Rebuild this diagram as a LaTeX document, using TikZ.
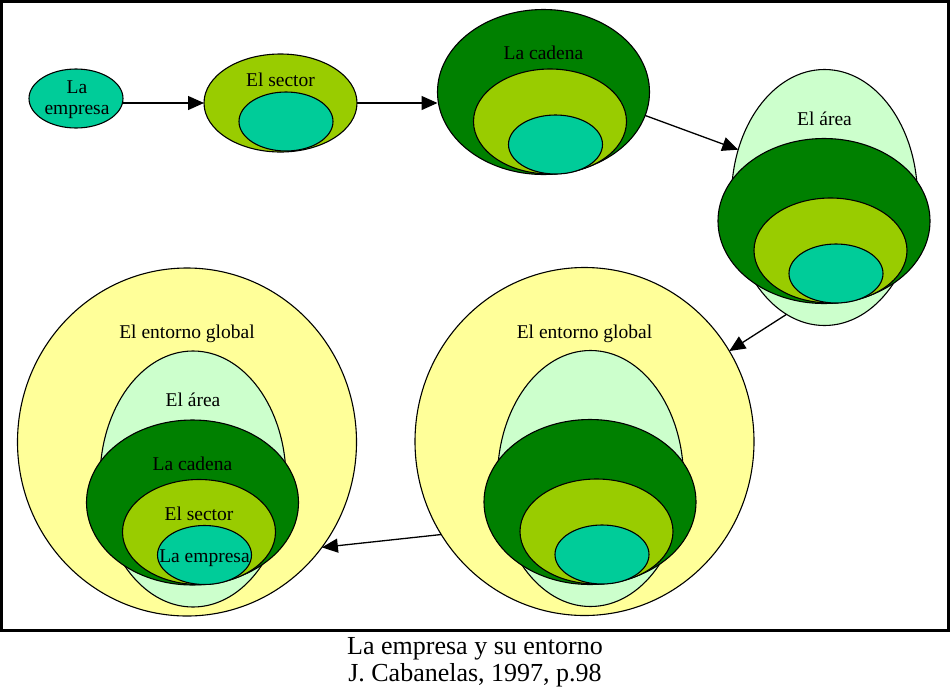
\documentclass[tikz,border=0pt]{standalone}
\usepackage{fontspec}
\setmainfont{Liberation Serif}
\usetikzlibrary{positioning, shapes.geometric, arrows.meta}
\definecolor{turquesa}{HTML}{00CC99}
\definecolor{pistacho}{HTML}{99CC00}
\definecolor{verdeosc}{HTML}{008000}
\definecolor{verdeclaro}{HTML}{CCFFCC}
\definecolor{amarillo}{HTML}{FFFF99}

\begin{document}
\begin{tikzpicture}[x=1pt, y=-1pt,
	elip/.style={draw, ellipse, line width=1.1pt, inner sep=0, outer sep=0},
	txt/.style={font=\fontsize{19.5}{21}\selectfont, inner sep=0, align=center},
	flecha/.style={line width=1.3pt, -{Triangle[length=16pt, width=14pt]}}]
\useasboundingbox (0,0) rectangle (951,694);
\draw[line width=3pt] (1.5,1.5) rectangle (948,630);
\node[elip, fill=turquesa, minimum width=94pt, minimum height=59pt] (empresa) at (76,98.5) {};
\node[elip, fill=pistacho, minimum width=153pt, minimum height=98pt] (sector) at (280.5,103) {};
\node[elip, fill=turquesa, minimum width=94pt, minimum height=59pt] (sectoremp) at (286,121.5) {};
\foreach \p/\tx/\ty/\n in {paso3/555.5/144.5/3, paso4/836/273.5/4, paso5/602/554.5/5, paso6/204.5/555/5} {
	\begin{scope}[shift={(\tx,\ty)}]
		\ifnum\n>4 \node[elip, fill=amarillo, minimum width=339pt, minimum height=348pt] (\p glob) at (-17.5,-113) {}; \fi
		\ifnum\n>3 \node[elip, fill=verdeclaro, minimum width=186pt, minimum height=256pt] (\p area) at (-11.5,-76) {}; \fi
		\node[elip, fill=verdeosc, minimum width=212pt, minimum height=165pt] (\p cad) at (-12,-52.5) {};
		\node[elip, fill=pistacho, minimum width=153pt, minimum height=105pt] (\p sec) at (-5.5,-23) {};
		\node[elip, fill=turquesa, minimum width=94pt, minimum height=59pt] (\p emp) at (0,0) {};
	\end{scope}
}
\node[txt] at (77,100) {La\\empresa};
\node[txt, below=19pt of sector.north] {El sector};
\node[txt, below=36.5pt of paso3cad.north] {La cadena};
\node[txt, below=42pt of paso4area.north] {El área};
\foreach \p in {paso5, paso6}
	\node[txt, below=57pt of \p glob.north] {El entorno global};
\node[txt, below=42pt of paso6area.north] {El área};
\node[txt, below=37pt of paso6cad.north] {La cadena};
\node[txt, below=27pt of paso6sec.north] {El sector};
\node[txt, below=24.5pt of paso6emp.north] {La empresa};
\draw[flecha] (empresa.east |- sector.west) -- (sector.west);
\draw[flecha] (sector.east) -- (sector.east -| paso3cad.west);
\draw[flecha] (paso3cad.-13) -- (paso4area.151);
\draw[flecha] (paso4area.-108) -- (paso5glob.32);
\draw[flecha] (paso5glob.-147) -- (paso6glob.-38);
\node[font=\fontsize{26}{27}\selectfont, align=center] (pie) at (475,662) {La empresa y su entorno\\J. Cabanelas, 1997, p.98};
\end{tikzpicture}
\end{document}
